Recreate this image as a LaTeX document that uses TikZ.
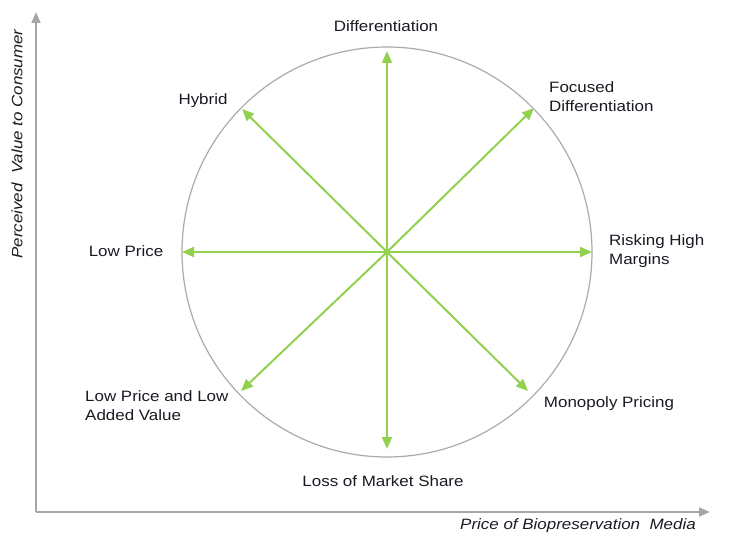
\documentclass[tikz,border=0pt]{standalone}
\usepackage{fontspec}
\setmainfont[FakeStretch=1.13]{Liberation Sans}
\usetikzlibrary{arrows.meta}
\definecolor{axisgray}{HTML}{A6A6A6}
\definecolor{circgray}{HTML}{ABABAB}
\definecolor{arrgreen}{HTML}{92D050}
\definecolor{txt}{HTML}{1A1A24}
\begin{document}
\begin{tikzpicture}[x=1pt,y=-1pt,
  axis/.style={draw=axisgray,line width=2pt,-{Triangle[length=11pt,width=9pt]}},
  spoke/.style={draw=arrgreen,line width=2pt,-{Triangle[length=12pt,width=10pt]}},
  lbl/.style={inner sep=0pt,text=txt,font=\fontsize{15}{19}\selectfont,align=left},
  axlbl/.style={inner sep=0pt,text=txt,font=\fontsize{15}{19}\selectfont\itshape}]
\useasboundingbox (0,0) rectangle (753,548);
% axes
\coordinate (o) at (36,512);
\coordinate (ytop) at (36,12);
\coordinate (xend) at (710,512);
\draw[axis] (o) -- (ytop);
\draw[axis] (o) -- (xend);
% circle
\coordinate (c) at (387,252);
\draw[circgray,line width=1.2pt] (c) circle[radius=205];
% spoke ends
\coordinate (eN) at (387,51);
\coordinate (eS) at (387,449);
\coordinate (eW) at (182,252);
\coordinate (eE) at (592,252);
\coordinate (eNW) at (242,109);
\coordinate (eNE) at (534,108);
\coordinate (eSW) at (241,391);
\coordinate (eSE) at (528,391);
\foreach \e in {eN,eS,eW,eE,eNW,eNE,eSW,eSE}
  \draw[spoke] (c) -- (\e);
% labels
\node[lbl] (lD) at (386,26) {Differentiation};
\node[lbl] (lH) at (203,101) {Hybrid};
\node[lbl,anchor=west] (lF) at (549,97) {Focused\\Differentiation};
\node[lbl] (lLP) at (126,251) {Low Price};
\node[lbl,anchor=west] (lR) at (609,251) {Risking High\\Margins};
\node[lbl,anchor=west] (lLL) at (85,406) {Low Price and Low\\Added Value};
\node[lbl] (lM) at (609,404) {Monopoly Pricing};
\node[lbl] (lS) at (383,481) {Loss of Market Share};
\node[axlbl,rotate=90] (ly) at (17,144) {Perceived \ Value to Consumer};
\node[axlbl] (lx) at (578,526) {Price of Biopreservation \ Media};
\end{tikzpicture}
\end{document}
